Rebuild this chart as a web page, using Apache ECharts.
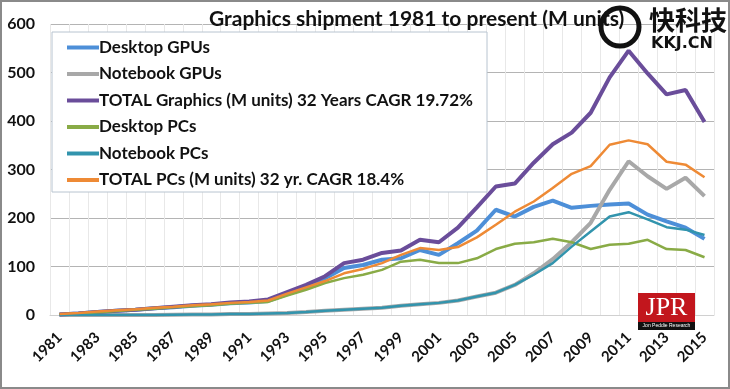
<!DOCTYPE html>
<html><head><meta charset="utf-8">
<script src="https://cdn.jsdelivr.net/npm/echarts@6/dist/echarts.min.js"></script>
<style>html,body{margin:0;padding:0;background:#fff}#c{width:730px;height:389px}</style>
</head><body><div id="c"></div>
<script>
const years = ['1981','1982','1983','1984','1985','1986','1987','1988','1989','1990','1991','1992','1993','1994','1995','1996','1997','1998','1999','2000','2001','2002','2003','2004','2005','2006','2007','2008','2009','2010','2011','2012','2013','2014','2015'];
const yTicks = [0,100,200,300,400,500,600];
const desktopGPUs = [1,3,6,9,11,14,16,19,21,24,26,29,43,56,76,97,103,114,117,134,124,148,174,217,203,223,236,221,225,228,230,207,193,180,157];
const notebookGPUs = [0,0,0,0,0,0,0.5,1,1,2,2,3,4,6,9,11,13,15,19,22,25,30,38,46,62,86,115,150,190,258,317,286,260,283,245];
const totalGraphics = [1,3,6,9,11,14,17,20,22,26,28,32,47,62,80,107,114,128,133,155,150,180,222,265,271,314,352,376,417,490,545,498,455,464,398];
const desktopPCs = [1,3,5,8,11,13,16,18,20,23,25,27,40,52,66,76,83,93,110,114,107,107,117,136,147,150,157,150,136,145,147,155,136,134,119];
const notebookPCs = [0,0,0,0,0,0,0.5,1,1,2,2,3,4,6,9,11,13,15,19,22,25,30,38,46,62,83,107,141,172,203,212,197,181,176,165];
const totalPCs = [2,4,7,10,12,15,17,20,22,25,27,30,44,57,70,86,95,107,124,138,134,140,160,186,213,234,262,291,307,351,360,352,316,310,284];
const names = ['Desktop GPUs','Notebook GPUs','TOTAL Graphics (M units) 32 Years CAGR 19.72%','Desktop PCs','Notebook PCs','TOTAL PCs (M units) 32 yr. CAGR 18.4%'];
const seriesData = [desktopGPUs, notebookGPUs, totalGraphics, desktopPCs, notebookPCs, totalPCs];
const colors = ['#4d8fd8','#a8a8a8','#6a4d9a','#89ab46','#3294ad','#ee8a35'];
const widths = [4,4,4,2.5,2.5,2.5];
const FONT = 'Lato';

const chart = echarts.init(document.getElementById('c'), null, {renderer:'canvas'});
chart.setOption({
  animation:false,
  color: colors,
  title:{text:'Graphics shipment 1981 to present (M units)', left:204, top:4,
    textStyle:{fontFamily:FONT, fontSize:21, fontWeight:'bold', color:'#111'}},
  grid:{left:50, right:16, top:24, bottom:74, containLabel:false},
  legend:{orient:'vertical', left:62, top:34, itemWidth:32, itemHeight:4, itemGap:9.5, icon:'rect',
    data:names, textStyle:{fontFamily:FONT, fontSize:17, fontWeight:'bold', color:'#111', padding:[0,0,0,-5]}, z:10},
  xAxis:{type:'category', data:years, boundaryGap:true,
    axisLine:{lineStyle:{color:'#d0d0d0'}}, axisTick:{show:false},
    axisLabel:{interval:1, rotate:45, fontFamily:FONT, fontSize:15, fontWeight:'bold', color:'#111', margin:20},
    splitLine:{show:true, interval:0, lineStyle:{color:'#e8e8e8', width:1}}},
  yAxis:{type:'value', min:yTicks[0], max:yTicks[yTicks.length-1], interval:100,
    axisLine:{show:false}, axisTick:{show:false},
    axisLabel:{fontFamily:FONT, fontSize:16, fontWeight:'bold', color:'#111', margin:15},
    splitLine:{lineStyle:{color:'#b4b4b4', width:1}}},
  series: seriesData.map((d,i)=>({name:names[i], type:'line', data:d, symbol:'none',
    lineStyle:{width:widths[i], color:colors[i]}, itemStyle:{color:colors[i]}, z:2+i})),
  graphic:[
    {type:'rect', shape:{x:52, y:32, width:435, height:160}, style:{fill:'#fff', stroke:'#b8c4d0', lineWidth:1}, z:5},
    {type:'rect', shape:{x:1, y:1, width:728, height:387}, style:{fill:'none', stroke:'#8a8a8a', lineWidth:2}, z:20, silent:true},
    {type:'circle', shape:{cx:620, cy:27, r:19}, style:{fill:'none', stroke:'#111', lineWidth:5}, z:20},
    {type:'text', style:{x:649, y:7, text:'快科技', font:'bold 26px "Noto Sans CJK SC"', fill:'#111'}, z:20},
    {type:'text', style:{x:651, y:36, text:'KKJ.CN', font:'bold 16px "DejaVu Sans"', fill:'#111'}, z:20},
    {type:'rect', shape:{x:638, y:293, width:57, height:30}, style:{fill:'#c2161d'}, z:20},
    {type:'rect', shape:{x:638, y:322, width:57, height:8}, style:{fill:'#111'}, z:20},
    {type:'text', style:{x:666.5, y:308, text:'JPR', font:'26px "Liberation Serif"', fill:'#fff', align:'center', verticalAlign:'middle'}, z:21},
    {type:'text', style:{x:666.5, y:326, text:'Jon Peddie Research', font:'5px "Liberation Sans"', fill:'#fff', align:'center', verticalAlign:'middle'}, z:21}
  ]
});
</script></body></html>
